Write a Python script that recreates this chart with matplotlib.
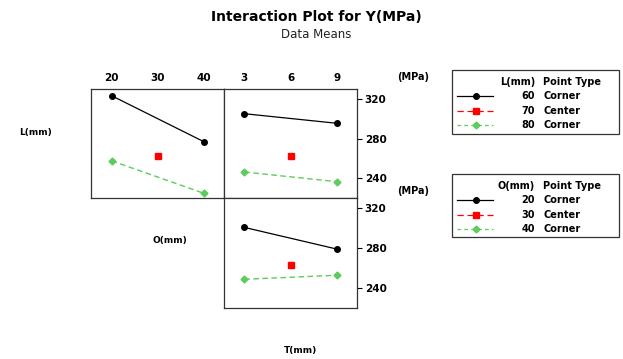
import matplotlib
matplotlib.use("Agg")
import matplotlib.pyplot as plt
from matplotlib.lines import Line2D
from matplotlib.patches import Rectangle

# data means
o_levels = [20, 40]
t_levels = [3, 9]
o_center = 30
t_center = 6

# L rows vs O
lo_60 = [323.6, 277.0]
lo_80 = [257.7, 224.8]
lo_70 = 262.8
# L rows vs T
lt_60 = [305.4, 295.7]
lt_80 = [246.4, 236.6]
lt_70 = 262.8
# O rows vs T
ot_20 = [300.7, 279.0]
ot_40 = [248.8, 252.9]
ot_30 = 263.1

black = "black"
red = "#ff0000"
green = "#5ccc5c"

plt.rcParams['font.family'] = 'DejaVu Sans'
plt.rcParams['font.weight'] = 'bold'

W, H = 623, 359
fig = plt.figure(figsize=(W / 100, H / 100), dpi=100)


def px_axes(x0, y0, x1, y1):
    # pixel box (top-left origin) -> figure axes
    return fig.add_axes([x0 / W, (H - y1) / H, (x1 - x0) / W, (y1 - y0) / H])


def style(ax, xticks, xlim, show_x, show_y):
    ax.set_xlim(xlim)
    ax.set_ylim(220.4, 330.4)
    ax.set_xticks(xticks)
    ax.set_yticks([240, 280, 320])
    ax.xaxis.tick_top()
    ax.tick_params(axis='x', length=0, pad=4, labelsize=7.5, labeltop=show_x)
    ax.tick_params(axis='y', left=False, right=show_y, labelleft=False,
                   labelright=show_y, length=3.5, width=0.8, pad=2, labelsize=7.5)
    for sp in ax.spines.values():
        sp.set_linewidth(0.9)
        sp.set_color('#333333')


def draw(ax, xs, top, bottom, cx, cy):
    ax.plot(xs, top, color=black, lw=0.9, marker='o', ms=4)
    ax.plot(xs, bottom, color=green, lw=1.0, ls=(0, (4, 2.5)), marker='D', ms=3.5)
    ax.plot([cx], [cy], color=red, ls='none', marker='s', ms=4)


ax1 = px_axes(91.3, 89, 224.3, 197.7)
draw(ax1, o_levels, lo_60, lo_80, o_center, lo_70)
style(ax1, [20, 30, 40], (15.6, 44.4), True, False)

ax2 = px_axes(224.3, 89, 357, 197.7)
draw(ax2, t_levels, lt_60, lt_80, t_center, lt_70)
style(ax2, [3, 6, 9], (1.7, 10.3), True, True)

ax3 = px_axes(224.3, 197.7, 357, 307.7)
draw(ax3, t_levels, ot_20, ot_40, t_center, ot_30)
style(ax3, [3, 6, 9], (1.7, 10.3), False, True)


def ftext(x, y, s, **kw):
    fig.text(x / W, 1 - y / H, s, **kw)


ftext(316, 17, "Interaction Plot for Y(MPa)", ha='center', va='center', fontsize=10)
ftext(316, 34, "Data Means", ha='center', va='center', fontsize=8.5,
      fontweight='normal', color='#222222')
ftext(36, 133, "L(mm)", ha='center', va='center', fontsize=6.5)
ftext(170, 241, "O(mm)", ha='center', va='center', fontsize=6.5)
ftext(300, 350, "T(mm)", ha='center', va='center', fontsize=6.5)
ftext(413, 77, "(MPa)", ha='center', va='center', fontsize=7)
ftext(413, 191, "(MPa)", ha='center', va='center', fontsize=7)

# legends drawn as boxes in pixel space
leg1_name = "L(mm)"
leg1_values = ["60", "70", "80"]
leg2_name = "O(mm)"
leg2_values = ["20", "30", "40"]
point_types = ["Corner", "Center", "Corner"]


def legend_box(y_top, y_bot, name, values):
    lx = fig.add_axes([0, 0, 1, 1], facecolor='none')
    lx.set_xlim(0, W)
    lx.set_ylim(H, 0)
    lx.axis('off')
    lx.add_patch(Rectangle((452, y_top), 167, y_bot - y_top, fill=False,
                           lw=0.9, ec='#333333'))
    hy = y_top + 12
    lx.text(535, hy, name, ha='right', va='center', fontsize=7)
    lx.text(543, hy, "Point Type", ha='left', va='center', fontsize=7)
    styles = [(black, '-', 'o', 4), (red, (0, (5, 3)), 's', 4), (green, (0, (3, 2.5)), 'D', 3.5)]
    for i, (val, pt) in enumerate(zip(values, point_types)):
        ry = hy + 14.3 * (i + 1)
        c, ls, m, ms = styles[i]
        lx.add_line(Line2D([457, 493], [ry, ry], color=c, ls=ls, lw=0.9))
        lx.plot([476], [ry], color=c, marker=m, ms=ms, ls='none')
        lx.text(535, ry, val, ha='right', va='center', fontsize=7)
        lx.text(543, ry, pt, ha='left', va='center', fontsize=7)


legend_box(70, 134, leg1_name, leg1_values)
legend_box(174, 237, leg2_name, leg2_values)

fig.savefig("out.png", dpi=100)
